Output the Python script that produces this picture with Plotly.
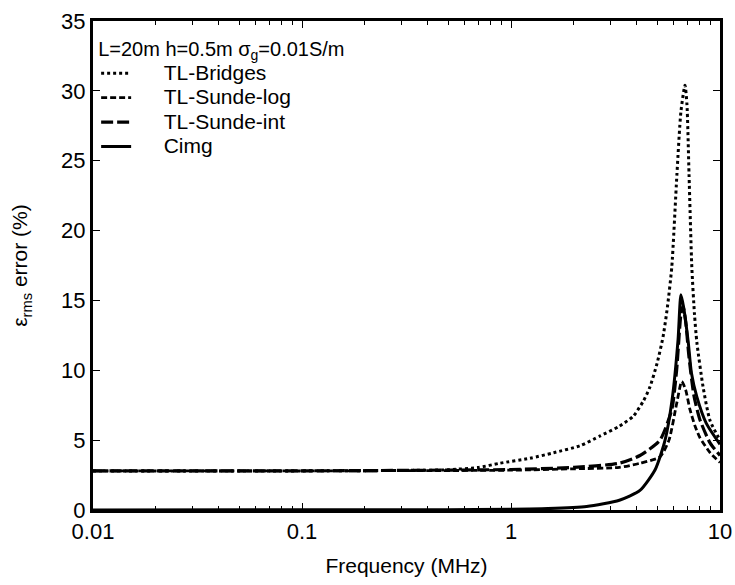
import plotly.graph_objects as go

# TL-Bridges (dotted)
f_bridges = [0.01, 0.1, 0.3, 0.5, 0.7, 0.885, 1.23, 1.6, 2.14, 2.67, 3.3, 3.84, 4.3, 4.62,
             5.0, 5.34, 5.6, 5.88, 6.22, 6.5, 6.8, 6.95, 7.11, 7.33, 7.55, 7.75, 8.3, 8.96, 10.0]
e_bridges = [2.8, 2.8, 2.83, 2.88, 3.05, 3.35, 3.7, 4.1, 4.6, 5.3, 6.0, 6.7, 7.8, 8.8,
             10.5, 12.4, 14.5, 17.4, 24.0, 28.5, 30.4, 29.0, 24.0, 17.4, 14.0, 12.0, 8.8, 6.4, 5.0]

# TL-Sunde-log (short dash)
f_slog = [0.01, 0.1, 1.0, 2.0, 3.3, 4.14, 5.16, 5.7, 6.2, 6.56, 6.85, 7.18, 7.6, 8.0, 8.96, 10.0]
e_slog = [2.8, 2.8, 2.85, 2.95, 3.05, 3.35, 3.8, 5.0, 7.6, 9.2, 8.6, 7.2, 6.0, 5.2, 4.1, 3.4]

# TL-Sunde-int (long dash)
f_sint = [0.01, 0.1, 1.0, 2.0, 3.3, 4.14, 5.16, 5.88, 6.2, 6.5, 6.65, 6.85, 7.1, 7.5, 8.0, 8.96, 10.0]
e_sint = [2.8, 2.8, 2.9, 3.05, 3.35, 3.9, 5.0, 7.2, 10.0, 14.0, 14.6, 13.5, 11.0, 8.2, 6.5, 4.8, 3.9]

# Cimg (solid)
f_cimg = [0.01, 0.5, 1.0, 1.5, 2.3, 3.3, 4.14, 4.9, 5.46, 5.9, 6.3, 6.5, 6.7, 7.05, 7.3, 7.75, 8.6, 10.0]
e_cimg = [0.0, 0.02, 0.05, 0.1, 0.25, 0.7, 1.4, 2.9, 5.0, 7.9, 12.2, 15.4, 14.5, 12.0, 9.8, 8.1, 6.2, 4.7]

x_ticks = [0.01, 0.1, 1, 10]
x_labels = ["0.01", "0.1", "1", "10"]
x_minor = [m * d for d in [0.01, 0.1, 1] for m in range(2, 10)]
y_ticks = [0, 5, 10, 15, 20, 25, 30, 35]

FONT = "Liberation Sans, Arial, sans-serif"
PAD = "&nbsp;" * 6


def legend_label(name):
    return PAD + '<span style="font-size:21px">' + name + "</span>"


fig = go.Figure()
series = [
    ("TL-Bridges", f_bridges, e_bridges, "3px,3px", 3),
    ("TL-Sunde-log", f_slog, e_slog, "6px,3px", 2.8),
    ("TL-Sunde-int", f_sint, e_sint, "12px,4px", 3.2),
    ("Cimg", f_cimg, e_cimg, "solid", 3),
]
for name, fx, ey, dash, w in series:
    fig.add_trace(go.Scatter(
        x=fx, y=ey, mode="lines", name=legend_label(name),
        line=dict(color="black", width=w, dash=dash, shape="spline", smoothing=0.6),
    ))

# invisible carrier trace for the minor-tick axis
fig.add_trace(go.Scatter(
    x=f_cimg, y=e_cimg, mode="lines", xaxis="x2", showlegend=False,
    hoverinfo="skip", line=dict(width=0, color="rgba(0,0,0,0)"),
))

fig.update_layout(
    width=735, height=585,
    margin=dict(l=93, r=15, t=21, b=75),
    paper_bgcolor="white", plot_bgcolor="white",
    font=dict(family=FONT, size=21, color="black"),
    showlegend=True,
    legend=dict(
        x=0.005, y=0.995, xanchor="left", yanchor="top",
        bgcolor="rgba(0,0,0,0)",
        title=dict(text='<span style="font-size:20px">L=20m h=0.5m σ<sub>g</sub>=0.01S/m</span>',
                   font=dict(size=25)),
        font=dict(size=16.5),
        tracegroupgap=0,
    ),
    xaxis=dict(
        type="log", range=[-2, 1], automargin=False,
        tickvals=x_ticks, ticktext=x_labels,
        ticks="inside", ticklen=7, tickwidth=1, tickcolor="black",
        showline=True, linecolor="black", linewidth=3, mirror="ticks",
        showgrid=False, zeroline=False,
        tickfont=dict(size=22),
        title=dict(text="Frequency (MHz)", standoff=15, font=dict(size=21)),
    ),
    xaxis2=dict(
        type="log", range=[-2, 1], overlaying="x", side="bottom", automargin=False,
        tickvals=x_minor, showticklabels=False,
        ticks="inside", ticklen=4, tickwidth=1, tickcolor="black",
        showline=True, linecolor="black", linewidth=3, mirror="ticks",
        showgrid=False, zeroline=False,
    ),
    yaxis=dict(
        range=[0, 35], tickvals=y_ticks, automargin=False,
        ticks="inside", ticklen=7, tickwidth=1, tickcolor="black",
        showline=True, linecolor="black", linewidth=3, mirror="ticks",
        showgrid=False, zeroline=False,
        tickfont=dict(size=22),
        title=dict(text="ε<sub>rms</sub> error (%)", standoff=28, font=dict(size=21)),
    ),
)

fig.write_html("out.html")
